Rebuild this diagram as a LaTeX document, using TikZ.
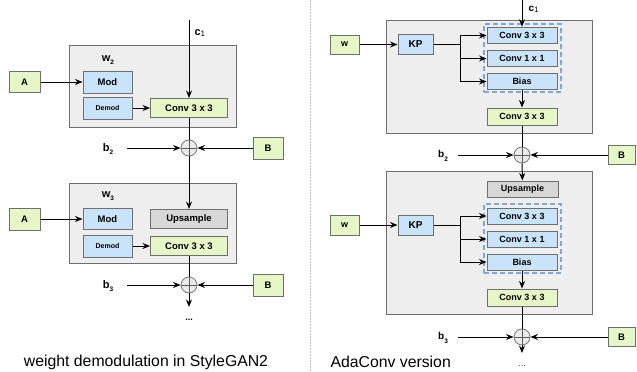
\documentclass[tikz,border=0pt]{standalone}
\usepackage{fontspec}
\setmainfont{Liberation Sans}
\usetikzlibrary{arrows.meta}
\definecolor{boxgreen}{HTML}{E6F6C6}
\definecolor{boxblue}{HTML}{C8E3FA}
\definecolor{panelgray}{HTML}{EEEEEE}
\definecolor{upgray}{HTML}{D7D7D7}
\definecolor{edgegray}{HTML}{6E6E6E}
\definecolor{dashblue}{HTML}{7DA6E0}
\newcommand{\lowsub}[1]{\raisebox{-3.5pt}{\fontsize{6.5}{6.5}\selectfont #1}}
\newcommand{\chsub}[1]{\raisebox{-1pt}{\mdseries\fontsize{8}{8}\selectfont #1}}
\newcommand{\fsz}[1]{\fontsize{#1}{#1}\selectfont}

\begin{document}
\begin{tikzpicture}[x=1pt, y=-1pt, line width=1pt,
    >={Stealth[length=7.5pt,width=6pt,inset=2.5pt]},
    blk/.style={rectangle, draw=edgegray, line width=1pt, inner sep=0pt, font=\bfseries\fsz{9.5}},
    convbox/.style={blk, fill=boxgreen},
    modbox/.style={blk, fill=boxblue},
    upbox/.style={blk, fill=upgray},
    inbox/.style={blk, fill=boxgreen},
    panel/.style={rectangle, draw=edgegray, fill=panelgray, line width=1pt, inner sep=0pt},
    group/.style={rectangle, draw=dashblue, line width=1.2pt, dash pattern=on 5pt off 3pt, inner sep=0pt},
    sumnode/.style={circle, draw=black!50, fill=black!8, line width=0.9pt, minimum size=16pt, inner sep=0pt,
        path picture={\draw[black!65] (path picture bounding box.north) -- (path picture bounding box.south)
            (path picture bounding box.west) -- (path picture bounding box.east);}},
    lbl/.style={inner sep=0pt, font=\bfseries\fsz{11}},
    caption/.style={inner sep=0pt, font=\fsz{15.8}}
]
\useasboundingbox (0,0) rectangle (637,372);

% divider
\draw[black!25, line width=1pt, dash pattern=on 1.5pt off 1.5pt] (310,0) -- (310,372);

% ---- left: StyleGAN2 ----
\node[panel, minimum width=167pt, minimum height=82pt] (panel2) at (152.5,86) {};
\node[panel, minimum width=167pt, minimum height=80pt] (panel3) at (152.5,223) {};

\node[lbl] (w2) at (108,60) {w\lowsub{2}};
\node[inbox, minimum width=31pt, minimum height=21pt] (A2) at (24.5,82) {A};
\node[modbox, minimum width=49pt, minimum height=22pt] (mod2) at (107.5,82) {Mod};
\node[modbox, minimum width=49pt, minimum height=22pt, font=\bfseries\fsz{7}] (demod2) at (107.5,108) {Demod};
\node[convbox, minimum width=77pt, minimum height=19pt] (conv2) at (189,108) {Conv 3 x 3};
\coordinate (c1in) at (189,20);
\node[lbl, anchor=west] (c1) at (194,33) {c\chsub{1}};
\node[sumnode] (sum2) at (189,148) {};
\node[lbl] (b2) at (108,149) {b\lowsub{2}};
\coordinate (b2in) at (127,148);
\node[inbox, minimum width=30pt, minimum height=22pt] (B2) at (268,148) {B};

\node[lbl] (w3) at (108,196) {w\lowsub{3}};
\node[inbox, minimum width=31pt, minimum height=22pt] (A3) at (24.5,219) {A};
\node[modbox, minimum width=49pt, minimum height=21pt] (mod3) at (107.5,219) {Mod};
\node[upbox, minimum width=77pt, minimum height=19pt] (up3) at (189,219) {Upsample};
\node[modbox, minimum width=49pt, minimum height=22pt, font=\bfseries\fsz{7}] (demod3) at (107.5,246) {Demod};
\node[convbox, minimum width=77pt, minimum height=19pt] (conv3) at (189,246) {Conv 3 x 3};
\node[sumnode] (sum3) at (189,285) {};
\node[lbl] (b3) at (108,286) {b\lowsub{3}};
\coordinate (b3in) at (127,285);
\node[inbox, minimum width=30pt, minimum height=22pt] (B3) at (268,285) {B};
\coordinate (out3) at (189,307);
\node[lbl, font=\bfseries\fsz{9}] (dots3) at (189,320) {...};

\draw[->] (A2) -- (mod2);
\draw[->] (demod2) -- (conv2);
\draw[->] (c1in) -- (conv2);
\draw (conv2) -- (sum2);
\draw[->] (b2in) -- (sum2);
\draw[->] (B2) -- (sum2);
\draw[->] (sum2) -- (up3);
\draw[->] (A3) -- (mod3);
\draw[->] (demod3) -- (conv3);
\draw (conv3) -- (sum3);
\draw[->] (b3in) -- (sum3);
\draw[->] (B3) -- (sum3);
\draw[->] (sum3) -- (out3);

\node[caption] (capl) at (146,362) {weight demodulation in StyleGAN2};

% ---- right: AdaConv ----
\begin{scope}[blk/.append style={font=\bfseries\fsz{9}}, lbl/.append style={font=\bfseries\fsz{10}}]
\node[panel, minimum width=206pt, minimum height=113pt] (panelR2) at (489,76.5) {};
\node[panel, minimum width=206pt, minimum height=143pt] (panelR3) at (489,242.5) {};

\node[inbox, minimum width=29pt, minimum height=19pt] (wR2) at (344.5,44.5) {w};
\node[modbox, minimum width=35pt, minimum height=20pt, font=\bfseries\fsz{10}] (kp2) at (415.5,44.5) {KP};
\node[group, minimum width=77pt, minimum height=68pt] (grp2) at (522.5,58) {};
\node[modbox, minimum width=70pt, minimum height=16.5pt] (ka2) at (522,35.5) {Conv 3 x 3};
\node[modbox, minimum width=70pt, minimum height=16.5pt] (kb2) at (522,58.5) {Conv 1 x 1};
\node[modbox, minimum width=70pt, minimum height=16.5pt] (kc2) at (522,81.5) {Bias};
\node[convbox, minimum width=70pt, minimum height=17pt] (cg2) at (522,116.5) {Conv 3 x 3};
\coordinate (split2) at (460,44.5);
\coordinate (c1R) at (522,0);
\node[lbl, anchor=west] (c1r) at (528,9) {c\chsub{1}};
\node[sumnode] (sumR2) at (522,155) {};
\node[lbl] (b2r) at (443,156) {b\lowsub{2}};
\coordinate (b2inR) at (458,155);
\node[inbox, minimum width=27pt, minimum height=19pt, font=\bfseries\fsz{9.5}] (BR2) at (621.5,155) {B};

\node[upbox, minimum width=71pt, minimum height=16pt] (upR3) at (522.5,189) {Upsample};
\node[inbox, minimum width=29pt, minimum height=20pt] (wR3) at (344.5,225) {w};
\node[modbox, minimum width=35pt, minimum height=20pt, font=\bfseries\fsz{10}] (kp3) at (415.5,225) {KP};
\node[group, minimum width=77pt, minimum height=69pt] (grp3) at (522.5,238.5) {};
\node[modbox, minimum width=70pt, minimum height=16pt] (ka3) at (522,216) {Conv 3 x 3};
\node[modbox, minimum width=70pt, minimum height=16pt] (kb3) at (522,239) {Conv 1 x 1};
\node[modbox, minimum width=70pt, minimum height=16pt] (kc3) at (522,262) {Bias};
\node[convbox, minimum width=70pt, minimum height=17pt] (cg3) at (522,297.5) {Conv 3 x 3};
\coordinate (split3) at (460,225);
\node[sumnode] (sumR3) at (522,337) {};
\node[lbl] (b3r) at (443,338) {b\lowsub{3}};
\coordinate (b3inR) at (458,337);
\node[inbox, minimum width=27pt, minimum height=19pt, font=\bfseries\fsz{9.5}] (BR3) at (621.5,337) {B};
\coordinate (outR3) at (522,353);
\node[lbl, font=\fsz{9}, text=black!70] (dotsR3) at (522,366) {...};
\end{scope}

\draw[->] (wR2) -- (kp2);
\draw (kp2) -- (split2);
\draw[->] (split2) |- (ka2.west);
\draw[->] (split2) |- (kb2.west);
\draw[->] (split2) |- (kc2.west);
\draw[->] (c1R) -- (ka2);
\draw[->] (kc2) -- (cg2);
\draw (cg2) -- (sumR2);
\draw[->] (b2inR) -- (sumR2);
\draw[->] (BR2) -- (sumR2);
\draw[->] (sumR2) -- (upR3);

\draw[->] (wR3) -- (kp3);
\draw (kp3) -- (split3);
\draw[->] (split3) |- (ka3.west);
\draw[->] (split3) |- (kb3.west);
\draw[->] (split3) |- (kc3.west);
\draw[->] (kc3) -- (cg3);
\draw (cg3) -- (sumR3);
\draw[->] (b3inR) -- (sumR3);
\draw[->] (BR3) -- (sumR3);
\draw[->] (sumR3) -- (outR3);

\node[caption, anchor=west] (capr) at (330,362) {AdaConv version};
\end{tikzpicture}
\end{document}
